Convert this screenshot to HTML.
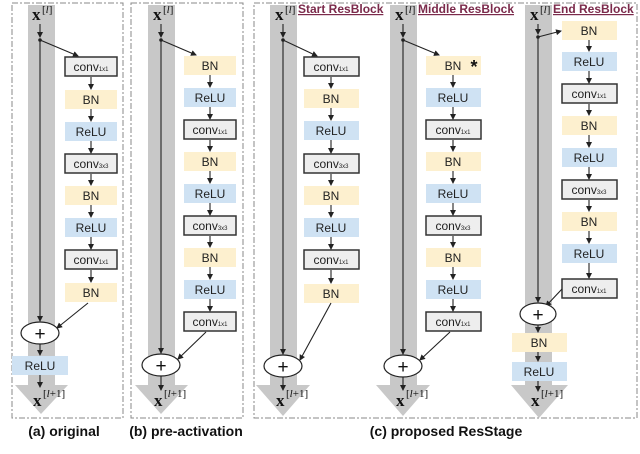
<!DOCTYPE html>
<html><head><meta charset="utf-8"><style>
html,body{margin:0;padding:0;background:#fff}
svg{display:block}
.t{font-family:"Liberation Sans",sans-serif;font-size:12px;fill:#222;text-anchor:middle}
.s{font-size:6px}
.x{font-family:"Liberation Serif",serif;font-weight:bold;font-size:17px;fill:#111}
.sp{font-family:"Liberation Serif",serif;font-size:11px;fill:#111}
.h{font-family:"Liberation Sans",sans-serif;font-weight:bold;font-size:12px;fill:#7b2a4b;text-decoration:underline}
.c{font-family:"Liberation Sans",sans-serif;font-weight:bold;font-size:14px;fill:#111;text-anchor:middle}
.bn{fill:#fdf0cf}.re{fill:#cfe2f3}.cv{fill:#eeeeee;stroke:#333;stroke-width:1.5}
.l{stroke:#222;stroke-width:1.1;fill:none}
.d{fill:none;stroke:#888;stroke-width:1;stroke-dasharray:6 2 2 2}
.p{font-family:"Liberation Sans",sans-serif;font-size:19px;fill:#111;text-anchor:middle}
</style></head><body>
<svg width="640" height="454" viewBox="0 0 640 454" xmlns="http://www.w3.org/2000/svg">
<defs><marker id="a" markerWidth="6" markerHeight="6" refX="5" refY="3" orient="auto" markerUnits="userSpaceOnUse"><path d="M0,0 L6,3 L0,6 z" fill="#222"/></marker></defs>
<rect class="d" x="12" y="3" width="111" height="415"/>
<rect class="d" x="131" y="3" width="112" height="415"/>
<rect class="d" x="254" y="3" width="383" height="415"/>
<g fill="#c8c8c8">
<path d="M28,5 H55 V385 H68 L41,414 L15,385 H28 Z"/>
<path d="M148,5 H175 V385 H188 L161,414 L135,385 H148 Z"/>
<path d="M270,5 H297 V385 H310 L283,416 L256,385 H270 Z"/>
<path d="M390,5 H417 V385 H430 L403,416 L376,385 H390 Z"/>
<path d="M525,5 H552 V385 H568 L539,418 L511,385 H525 Z"/>
</g>
<!-- (a) -->
<text class="x" x="32" y="20">x</text><text class="sp" x="42" y="13">[<tspan font-style="italic">l</tspan>]</text>
<line class="l" x1="40" y1="24" x2="40" y2="37" marker-end="url(#a)"/>
<circle cx="40" cy="40" r="1.8" fill="#222"/>
<line class="l" x1="40" y1="40" x2="40" y2="321" marker-end="url(#a)"/>
<line class="l" x1="40" y1="40" x2="78" y2="56" marker-end="url(#a)"/>
<rect class="cv" x="65" y="57" width="52" height="19"/><text class="t" x="91" y="71">conv<tspan class="s">1x1</tspan></text>
<rect class="bn" x="65" y="90" width="52" height="19"/><text class="t" x="91" y="104">BN</text>
<rect class="re" x="65" y="122" width="52" height="19"/><text class="t" x="91" y="136">ReLU</text>
<rect class="cv" x="65" y="154" width="52" height="19"/><text class="t" x="91" y="168">conv<tspan class="s">3x3</tspan></text>
<rect class="bn" x="65" y="186" width="52" height="19"/><text class="t" x="91" y="200">BN</text>
<rect class="re" x="65" y="218" width="52" height="19"/><text class="t" x="91" y="232">ReLU</text>
<rect class="cv" x="65" y="250" width="52" height="19"/><text class="t" x="91" y="264">conv<tspan class="s">1x1</tspan></text>
<rect class="bn" x="65" y="283" width="52" height="19"/><text class="t" x="91" y="297">BN</text>
<g class="l"><line x1="91" y1="77" x2="91" y2="89" marker-end="url(#a)"/><line x1="91" y1="109" x2="91" y2="121" marker-end="url(#a)"/><line x1="91" y1="141" x2="91" y2="153" marker-end="url(#a)"/><line x1="91" y1="174" x2="91" y2="185" marker-end="url(#a)"/><line x1="91" y1="205" x2="91" y2="217" marker-end="url(#a)"/><line x1="91" y1="237" x2="91" y2="249" marker-end="url(#a)"/><line x1="91" y1="270" x2="91" y2="282" marker-end="url(#a)"/></g>
<line class="l" x1="88" y1="303" x2="57" y2="328" marker-end="url(#a)"/>
<ellipse cx="40" cy="333" rx="19" ry="11" fill="#fff" stroke="#222" stroke-width="1.2"/><text class="p" x="40" y="340">+</text>
<line class="l" x1="40" y1="344" x2="40" y2="355" marker-end="url(#a)"/>
<rect class="re" x="12" y="356" width="56" height="19"/><text class="t" x="40" y="370">ReLU</text>
<line class="l" x1="40" y1="375" x2="40" y2="387" marker-end="url(#a)"/>
<text class="x" x="33" y="406">x</text><text class="sp" x="43" y="397">[<tspan font-style="italic">l</tspan>+1]</text>
<text class="c" x="64" y="436">(a) original</text>
<!-- (b) -->
<text class="x" x="153" y="20">x</text><text class="sp" x="163" y="13">[<tspan font-style="italic">l</tspan>]</text>
<line class="l" x1="161" y1="24" x2="161" y2="37" marker-end="url(#a)"/>
<circle cx="161" cy="40" r="1.8" fill="#222"/>
<line class="l" x1="161" y1="40" x2="161" y2="353" marker-end="url(#a)"/>
<line class="l" x1="161" y1="40" x2="196" y2="55" marker-end="url(#a)"/>
<rect class="bn" x="184" y="56" width="52" height="19"/><text class="t" x="210" y="70">BN</text>
<rect class="re" x="184" y="88" width="52" height="19"/><text class="t" x="210" y="102">ReLU</text>
<rect class="cv" x="184" y="120" width="52" height="19"/><text class="t" x="210" y="134">conv<tspan class="s">1x1</tspan></text>
<rect class="bn" x="184" y="152" width="52" height="19"/><text class="t" x="210" y="166">BN</text>
<rect class="re" x="184" y="184" width="52" height="19"/><text class="t" x="210" y="198">ReLU</text>
<rect class="cv" x="184" y="216" width="52" height="19"/><text class="t" x="210" y="230">conv<tspan class="s">3x3</tspan></text>
<rect class="bn" x="184" y="248" width="52" height="19"/><text class="t" x="210" y="262">BN</text>
<rect class="re" x="184" y="280" width="52" height="19"/><text class="t" x="210" y="294">ReLU</text>
<rect class="cv" x="184" y="312" width="52" height="19"/><text class="t" x="210" y="326">conv<tspan class="s">1x1</tspan></text>
<g class="l"><line x1="210" y1="75" x2="210" y2="87" marker-end="url(#a)"/><line x1="210" y1="107" x2="210" y2="119" marker-end="url(#a)"/><line x1="210" y1="140" x2="210" y2="151" marker-end="url(#a)"/><line x1="210" y1="171" x2="210" y2="183" marker-end="url(#a)"/><line x1="210" y1="203" x2="210" y2="215" marker-end="url(#a)"/><line x1="210" y1="236" x2="210" y2="247" marker-end="url(#a)"/><line x1="210" y1="267" x2="210" y2="279" marker-end="url(#a)"/><line x1="210" y1="299" x2="210" y2="311" marker-end="url(#a)"/></g>
<line class="l" x1="206" y1="332" x2="178" y2="359" marker-end="url(#a)"/>
<ellipse cx="161" cy="365" rx="19" ry="11" fill="#fff" stroke="#222" stroke-width="1.2"/><text class="p" x="161" y="372">+</text>
<line class="l" x1="161" y1="376" x2="161" y2="390" marker-end="url(#a)"/>
<text class="x" x="154" y="406">x</text><text class="sp" x="164" y="397">[<tspan font-style="italic">l</tspan>+1]</text>
<text class="c" x="186" y="436">(b) pre-activation</text>
<!-- (c) start -->
<text class="x" x="275" y="20">x</text><text class="sp" x="285" y="13">[<tspan font-style="italic">l</tspan>]</text>
<text class="h" x="298" y="13">Start ResBlock</text>
<line class="l" x1="283" y1="24" x2="283" y2="37" marker-end="url(#a)"/>
<circle cx="283" cy="40" r="1.8" fill="#222"/>
<line class="l" x1="283" y1="40" x2="283" y2="354" marker-end="url(#a)"/>
<line class="l" x1="283" y1="40" x2="317" y2="56" marker-end="url(#a)"/>
<rect class="cv" x="304" y="57" width="55" height="19"/><text class="t" x="331" y="71">conv<tspan class="s">1x1</tspan></text>
<rect class="bn" x="304" y="89" width="55" height="19"/><text class="t" x="331" y="103">BN</text>
<rect class="re" x="304" y="121" width="55" height="19"/><text class="t" x="331" y="135">ReLU</text>
<rect class="cv" x="304" y="154" width="55" height="19"/><text class="t" x="331" y="168">conv<tspan class="s">3x3</tspan></text>
<rect class="bn" x="304" y="186" width="55" height="19"/><text class="t" x="331" y="200">BN</text>
<rect class="re" x="304" y="218" width="55" height="19"/><text class="t" x="331" y="232">ReLU</text>
<rect class="cv" x="304" y="250" width="55" height="19"/><text class="t" x="331" y="264">conv<tspan class="s">1x1</tspan></text>
<rect class="bn" x="304" y="284" width="55" height="19"/><text class="t" x="331" y="298">BN</text>
<g class="l"><line x1="331" y1="77" x2="331" y2="88" marker-end="url(#a)"/><line x1="331" y1="108" x2="331" y2="120" marker-end="url(#a)"/><line x1="331" y1="140" x2="331" y2="153" marker-end="url(#a)"/><line x1="331" y1="174" x2="331" y2="185" marker-end="url(#a)"/><line x1="331" y1="205" x2="331" y2="217" marker-end="url(#a)"/><line x1="331" y1="237" x2="331" y2="249" marker-end="url(#a)"/><line x1="331" y1="270" x2="331" y2="283" marker-end="url(#a)"/></g>
<line class="l" x1="331" y1="303" x2="300" y2="360" marker-end="url(#a)"/>
<ellipse cx="283" cy="366" rx="19" ry="11" fill="#fff" stroke="#222" stroke-width="1.2"/><text class="p" x="283" y="373">+</text>
<line class="l" x1="283" y1="377" x2="283" y2="390" marker-end="url(#a)"/>
<text class="x" x="276" y="406">x</text><text class="sp" x="286" y="397">[<tspan font-style="italic">l</tspan>+1]</text>
<!-- (c) middle -->
<text class="x" x="395" y="20">x</text><text class="sp" x="405" y="13">[<tspan font-style="italic">l</tspan>]</text>
<text class="h" x="418" y="13">Middle ResBlock</text>
<line class="l" x1="403" y1="24" x2="403" y2="37" marker-end="url(#a)"/>
<circle cx="403" cy="40" r="1.8" fill="#222"/>
<line class="l" x1="403" y1="40" x2="403" y2="354" marker-end="url(#a)"/>
<line class="l" x1="403" y1="40" x2="439" y2="55" marker-end="url(#a)"/>
<rect class="bn" x="426" y="56" width="55" height="19"/><text class="t" x="453" y="70">BN</text><text x="474" y="73" text-anchor="middle" font-family="Liberation Sans" font-weight="bold" font-size="18" fill="#111">*</text>
<rect class="re" x="426" y="88" width="55" height="19"/><text class="t" x="453" y="102">ReLU</text>
<rect class="cv" x="426" y="120" width="55" height="19"/><text class="t" x="453" y="134">conv<tspan class="s">1x1</tspan></text>
<rect class="bn" x="426" y="152" width="55" height="19"/><text class="t" x="453" y="166">BN</text>
<rect class="re" x="426" y="184" width="55" height="19"/><text class="t" x="453" y="198">ReLU</text>
<rect class="cv" x="426" y="216" width="55" height="19"/><text class="t" x="453" y="230">conv<tspan class="s">3x3</tspan></text>
<rect class="bn" x="426" y="248" width="55" height="19"/><text class="t" x="453" y="262">BN</text>
<rect class="re" x="426" y="280" width="55" height="19"/><text class="t" x="453" y="294">ReLU</text>
<rect class="cv" x="426" y="312" width="55" height="19"/><text class="t" x="453" y="326">conv<tspan class="s">1x1</tspan></text>
<g class="l"><line x1="453" y1="75" x2="453" y2="87" marker-end="url(#a)"/><line x1="453" y1="107" x2="453" y2="119" marker-end="url(#a)"/><line x1="453" y1="140" x2="453" y2="151" marker-end="url(#a)"/><line x1="453" y1="171" x2="453" y2="183" marker-end="url(#a)"/><line x1="453" y1="203" x2="453" y2="215" marker-end="url(#a)"/><line x1="453" y1="236" x2="453" y2="247" marker-end="url(#a)"/><line x1="453" y1="267" x2="453" y2="279" marker-end="url(#a)"/><line x1="453" y1="299" x2="453" y2="311" marker-end="url(#a)"/></g>
<line class="l" x1="450" y1="332" x2="420" y2="360" marker-end="url(#a)"/>
<ellipse cx="403" cy="366" rx="19" ry="11" fill="#fff" stroke="#222" stroke-width="1.2"/><text class="p" x="403" y="373">+</text>
<line class="l" x1="403" y1="377" x2="403" y2="390" marker-end="url(#a)"/>
<text class="x" x="396" y="406">x</text><text class="sp" x="406" y="397">[<tspan font-style="italic">l</tspan>+1]</text>
<!-- (c) end -->
<text class="x" x="530" y="20">x</text><text class="sp" x="540" y="13">[<tspan font-style="italic">l</tspan>]</text>
<text class="h" x="553" y="13">End ResBlock</text>
<line class="l" x1="538" y1="24" x2="538" y2="34" marker-end="url(#a)"/>
<circle cx="538" cy="37" r="1.8" fill="#222"/>
<line class="l" x1="538" y1="37" x2="538" y2="302" marker-end="url(#a)"/>
<line class="l" x1="538" y1="37" x2="561" y2="31" marker-end="url(#a)"/>
<rect class="bn" x="562" y="21" width="55" height="19"/><text class="t" x="589" y="35">BN</text>
<rect class="re" x="562" y="52" width="55" height="19"/><text class="t" x="589" y="66">ReLU</text>
<rect class="cv" x="562" y="84" width="55" height="19"/><text class="t" x="589" y="98">conv<tspan class="s">1x1</tspan></text>
<rect class="bn" x="562" y="116" width="55" height="19"/><text class="t" x="589" y="130">BN</text>
<rect class="re" x="562" y="148" width="55" height="19"/><text class="t" x="589" y="162">ReLU</text>
<rect class="cv" x="562" y="180" width="55" height="19"/><text class="t" x="589" y="194">conv<tspan class="s">3x3</tspan></text>
<rect class="bn" x="562" y="212" width="55" height="19"/><text class="t" x="589" y="226">BN</text>
<rect class="re" x="562" y="244" width="55" height="19"/><text class="t" x="589" y="258">ReLU</text>
<rect class="cv" x="562" y="279" width="55" height="19"/><text class="t" x="589" y="293">conv<tspan class="s">1x1</tspan></text>
<g class="l"><line x1="589" y1="40" x2="589" y2="51" marker-end="url(#a)"/><line x1="589" y1="71" x2="589" y2="83" marker-end="url(#a)"/><line x1="589" y1="104" x2="589" y2="115" marker-end="url(#a)"/><line x1="589" y1="135" x2="589" y2="147" marker-end="url(#a)"/><line x1="589" y1="167" x2="589" y2="179" marker-end="url(#a)"/><line x1="589" y1="200" x2="589" y2="211" marker-end="url(#a)"/><line x1="589" y1="231" x2="589" y2="243" marker-end="url(#a)"/><line x1="589" y1="263" x2="589" y2="278" marker-end="url(#a)"/></g>
<line class="l" x1="562" y1="289" x2="546" y2="306" marker-end="url(#a)"/>
<ellipse cx="538" cy="314" rx="18" ry="11" fill="#fff" stroke="#222" stroke-width="1.2"/><text class="p" x="538" y="321">+</text>
<line class="l" x1="538" y1="325" x2="538" y2="332" marker-end="url(#a)"/>
<rect class="bn" x="512" y="333" width="55" height="19"/><text class="t" x="539" y="347">BN</text>
<line class="l" x1="538" y1="352" x2="538" y2="361" marker-end="url(#a)"/>
<rect class="re" x="512" y="362" width="55" height="19"/><text class="t" x="539" y="376">ReLU</text>
<line class="l" x1="538" y1="381" x2="538" y2="391" marker-end="url(#a)"/>
<text class="x" x="531" y="406">x</text><text class="sp" x="541" y="397">[<tspan font-style="italic">l</tspan>+1]</text>
<text class="c" x="446" y="436">(c) proposed ResStage</text>
</svg>
</body></html>
